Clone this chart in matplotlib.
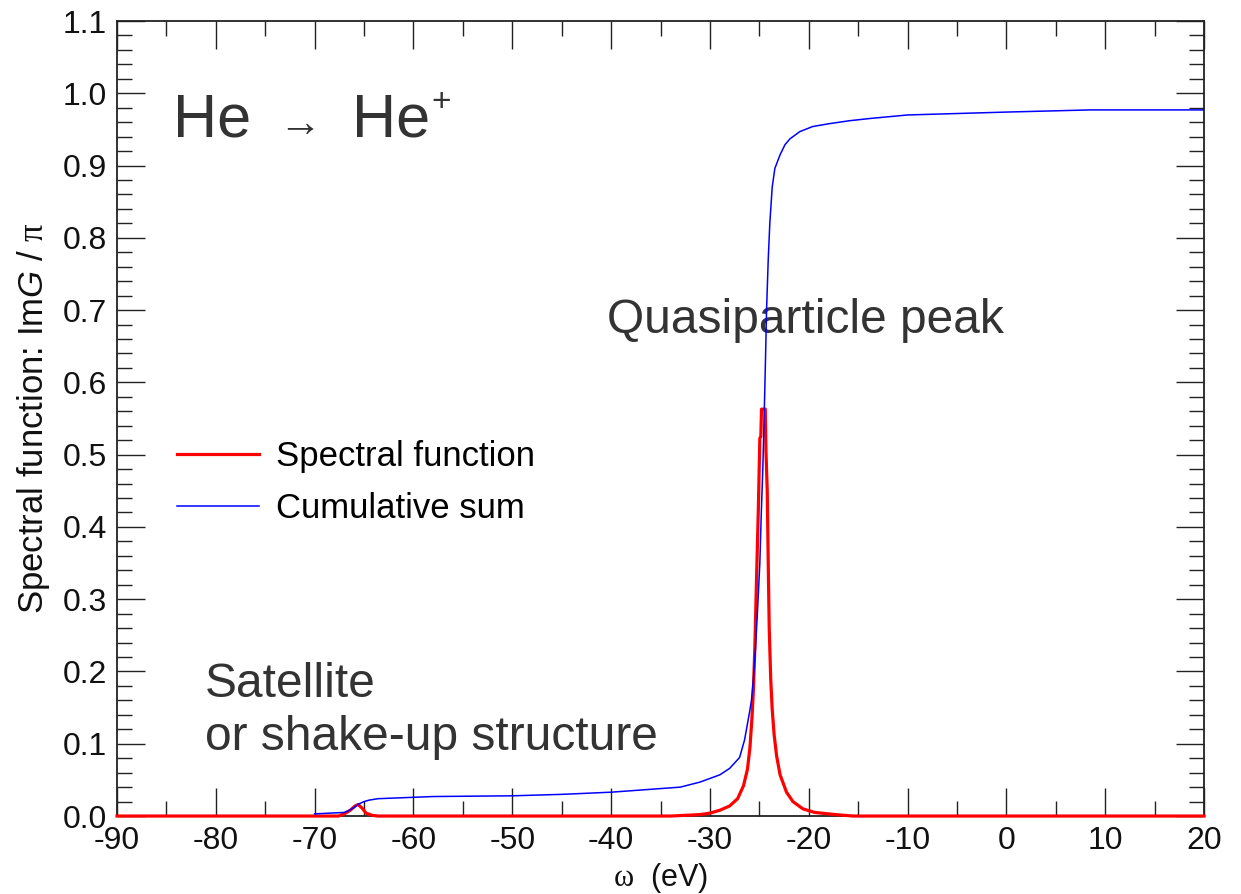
import numpy as np
import matplotlib
matplotlib.use("Agg")
import matplotlib.pyplot as plt
from matplotlib.ticker import MultipleLocator, FormatStrFormatter

plt.rcParams['font.family'] = ['Liberation Sans', 'DejaVu Sans']
plt.rcParams['axes.unicode_minus'] = False
plt.rcParams['mathtext.fontset'] = 'custom'
plt.rcParams['mathtext.rm'] = 'Liberation Serif'
plt.rcParams['mathtext.it'] = 'Liberation Sans:italic'
plt.rcParams['mathtext.sf'] = 'Liberation Sans'

# spectral function ImG/pi (omega in eV)
spec_x = [-90, -67.6, -67.0, -66.4, -65.9, -65.6, -65.2, -64.8, -64.2, -63.6,
          -34, -31, -30, -29, -28, -27.2, -26.6, -26.2, -25.95, -25.75,
          -25.6, -25.45, -25.3, -25.1, -24.95, -24.85, -24.78, -24.4, -24.33,
          -24.2, -24.1, -24.0, -23.85, -23.7, -23.5, -23.25, -22.9, -22.25,
          -21.6, -20.6, -19.4, -17.3, -15.5, 20]
spec_y = [0, 0, 0.003, 0.008, 0.014, 0.016, 0.011, 0.004, 0.001, 0,
          0, 0.002, 0.004, 0.008, 0.014, 0.024, 0.042, 0.065, 0.095, 0.135,
          0.175, 0.235, 0.32, 0.425, 0.523, 0.525, 0.563, 0.563, 0.505,
          0.45, 0.35, 0.26, 0.19, 0.148, 0.112, 0.083, 0.057, 0.033,
          0.02, 0.01, 0.005, 0.002, 0, 0]

# cumulative sum
cum_x = [-70, -67, -66.5, -66, -65.5, -65, -64.5, -63.6, -58, -50, -45, -40,
         -35, -33, -31, -29, -28, -27, -26.5, -26, -25.8, -25.6, -25.4, -25.2,
         -24.95, -24.8, -24.65, -24.5, -24.38, -24.27, -24.1, -23.94, -23.7,
         -23.43, -22.9, -22.4, -21.9, -20.9, -19.6, -17.9, -15.9, -13.9, -10,
         -5, 0, 8.5, 20]
cum_y = [0.003, 0.005, 0.008, 0.012, 0.017, 0.020, 0.022, 0.024, 0.027, 0.028,
         0.030, 0.033, 0.038, 0.040, 0.047, 0.057, 0.066, 0.081, 0.105, 0.143,
         0.160, 0.19, 0.23, 0.28, 0.35, 0.42, 0.48, 0.56, 0.63, 0.70, 0.77,
         0.82, 0.87, 0.896, 0.915, 0.929, 0.937, 0.947, 0.954, 0.958, 0.962,
         0.965, 0.970, 0.972, 0.974, 0.977, 0.977]

fig = plt.figure(figsize=(12.41, 8.94), dpi=100)
ax = fig.add_axes([0.0943, 0.0872, 0.8759, 0.8893])

ax.plot(spec_x, spec_y, color='#ff0000', lw=2.3, label='Spectral function',
        clip_on=False, zorder=3)
ax.plot(cum_x, cum_y, color='#0000ff', lw=1.1, label='Cumulative sum', zorder=4)

ax.set_xlim(-90, 20)
ax.set_ylim(0, 1.1)
ax.xaxis.set_major_locator(MultipleLocator(10))
ax.xaxis.set_minor_locator(MultipleLocator(5))
ax.yaxis.set_major_locator(MultipleLocator(0.1))
ax.yaxis.set_minor_locator(MultipleLocator(0.02))
ax.yaxis.set_major_formatter(FormatStrFormatter('%.1f'))
ax.tick_params(which='both', direction='in', top=True, right=True,
               color='#222222', width=1.0, labelsize=23, labelcolor='#111111')
ax.tick_params(which='major', length=20)
ax.tick_params(which='minor', length=11)
ax.tick_params(axis='y', pad=7)
ax.tick_params(axis='x', pad=7)
for s in ax.spines.values():
    s.set_linewidth(1.3)
    s.set_color('#222222')

ax.set_ylabel(r'Spectral function: Im$\mathit{G}$ / $\mathrm{\pi}$', fontsize=25,
              color='#111111')
ax.yaxis.set_label_coords(-0.060, 0.5)
ax.set_xlabel(r'$\mathrm{\omega}$  (eV)', fontsize=22, color='#111111', va='top')
ax.xaxis.set_label_coords(0.5, -0.056)

txt = '#333333'
ax.text(0.0515, 0.855, 'He', transform=ax.transAxes, fontsize=44, color=txt)
ax.text(0.168, 0.855, '→', transform=ax.transAxes, fontsize=31, color=txt,
        ha='center')
ax.text(0.216, 0.855, 'He', transform=ax.transAxes, fontsize=44, color=txt)
ax.text(0.2895, 0.887, '+', transform=ax.transAxes, fontsize=24, color=txt)
ax.text(0.4508, 0.6075, 'Quasiparticle peak', transform=ax.transAxes,
        fontsize=34.5, color=txt)
ax.text(0.081, 0.1497, 'Satellite', transform=ax.transAxes, fontsize=34.5,
        color=txt)
ax.text(0.081, 0.083, 'or shake-up structure', transform=ax.transAxes,
        fontsize=34.5, color=txt)

ax.legend(loc='upper left', bbox_to_anchor=(0.0552, 0.473), frameon=False,
          fontsize=25, handlelength=2.36, handletextpad=0.5, labelspacing=0.56,
          borderpad=0, borderaxespad=0)

fig.savefig('out.png', dpi=100)
